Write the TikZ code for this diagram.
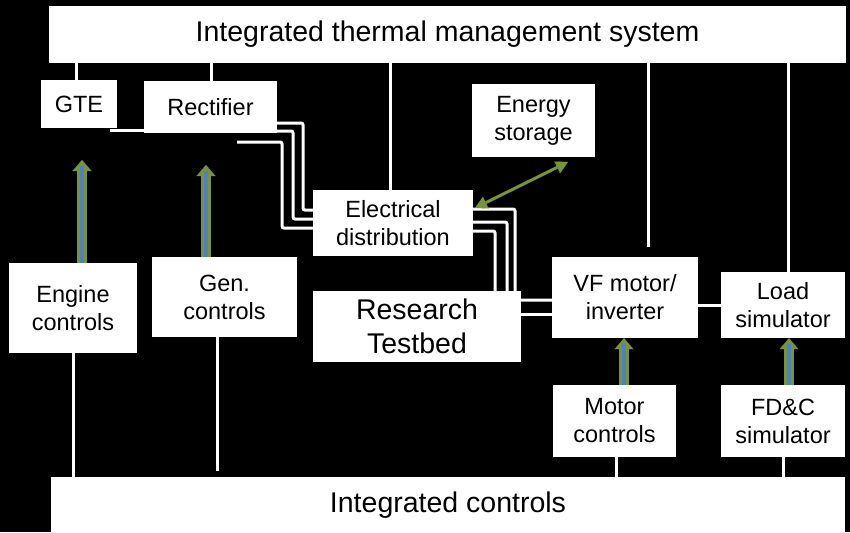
\documentclass[tikz,border=0pt]{standalone}
\usepackage{fontspec}
\setmainfont{Liberation Sans}
\usetikzlibrary{arrows.meta}
\pgfdeclarelayer{bg}
\pgfsetlayers{bg,main}
\definecolor{ogreen}{HTML}{77933C}
\definecolor{oblue}{HTML}{4F81BD}
\begin{document}
\begin{tikzpicture}[x=1pt,y=-1pt,
  box/.style={fill=white, inner sep=0pt, align=center, font=\fontsize{23.5}{28}\selectfont},
  bigbox/.style={box, font=\fontsize{28.5}{34}\selectfont},
  wire/.style={draw=white, line width=3pt, rounded corners=2pt},
  gshaft/.style={draw=ogreen, line width=10pt, -{Triangle[width=19pt,length=11pt,line width=0.1pt]}},
  bshaft/.style={draw=oblue, line width=3.5pt, shorten >=6pt},
  dblarrow/.style={draw=ogreen, line width=3pt, {Triangle[width=13pt,length=12pt,line width=0.1pt]}-{Triangle[width=13pt,length=12pt,line width=0.1pt]}}
]
\useasboundingbox (0,0) rectangle (850,532);

% nodes
\node[bigbox, minimum width=797pt, minimum height=57pt] (top) at (447.5,34.5) {Integrated thermal management system};
\node[box, minimum width=76pt, minimum height=48pt] (gte) at (79,104) {GTE};
\node[box, minimum width=133pt, minimum height=52pt] (rect) at (210.5,107) {Rectifier};
\node[box, minimum width=123pt, minimum height=73pt] (es) at (533.5,120.5) {Energy\\storage};
\node[box, minimum width=160pt, minimum height=66pt] (ed) at (393,223) {Electrical\\distribution};
\node[bigbox, minimum width=208pt, minimum height=71pt] (rt) at (417,326.5) {Research\\Testbed};
\node[box, minimum width=146pt, minimum height=81pt] (vf) at (625,297.5) {VF motor/\\inverter};
\node[box, minimum width=124pt, minimum height=66pt] (load) at (783,305) {Load\\simulator};
\node[box, minimum width=128pt, minimum height=90pt] (eng) at (73,308) {Engine\\controls};
\node[box, minimum width=145pt, minimum height=80pt] (gen) at (224.5,297) {Gen.\\controls};
\node[box, minimum width=123pt, minimum height=72pt] (mot) at (614.5,421) {Motor\\controls};
\node[box, minimum width=124pt, minimum height=72pt] (fdc) at (783,421) {FD\&C\\simulator};
\node[bigbox, minimum width=794pt, minimum height=56pt] (ic) at (448,505) {Integrated controls};

% free ends
\coordinate (w3s) at (237,142);
\coordinate (gteIn) at (82,160);
\coordinate (rectIn) at (206,165);
\coordinate (esTip) at (568,162);
\coordinate (edTip) at (475,208);

\begin{pgfonlayer}{bg}
\fill[black] (0,0) rectangle (850,532);
% thermal links
\draw[wire] (top.south -| 76,0) -- (gte.north -| 76,0);
\draw[wire] (top.south -| 211,0) -- (rect.north -| 211,0);
\draw[wire] (top.south -| 390,0) -- (ed.north -| 390,0);
\draw[wire, shorten >=10pt] (top.south -| 648,0) -- (vf.north -| 648,0);
\draw[wire] (top.south -| 788,0) -- (load.north -| 788,0);
% control links
\draw[wire] (eng.south -| 73,0) -- (ic.north -| 73,0);
\draw[wire, shorten >=6pt] (gen.south -| 217,0) -- (ic.north -| 217,0);
\draw[wire] (mot.south -| 616,0) -- (ic.north -| 616,0);
\draw[wire] (fdc.south -| 783,0) -- (ic.north -| 783,0);
% GTE - rectifier
\draw[wire] (gte.east |- 0,130) ++(-7,0) -- (rect.west |- 0,130);
% rectifier - electrical distribution
\draw[wire] (rect.east |- 0,123) -- (303,123) -- (303,210) -- (ed.west |- 0,210);
\draw[wire] (rect.east |- 0,131) -- (293,131) -- (293,219) -- (ed.west |- 0,219);
\draw[wire] (w3s) -- (282,142) -- (282,228) -- (ed.west |- 0,228);
% electrical distribution - testbed / VF motor
\draw[wire] (ed.east |- 0,209) -- (515,209) -- (515,300) -- (vf.west |- 0,300);
\draw[wire] (ed.east |- 0,222) -- (507,222) -- (rt.north -| 507,0);
\draw[wire] (ed.east |- 0,231) -- (495,231) -- (rt.north -| 495,0);
\draw[wire] (rt.east |- 0,314) -- (vf.west |- 0,314);
% VF - load
\draw[wire] (vf.east |- 0,305) -- (load.west |- 0,305);
\end{pgfonlayer}

% green control arrows
\draw[gshaft] (eng.north -| 82,0) -- (gteIn);
\draw[bshaft] (eng.north -| 82,0) -- (gteIn);
\draw[gshaft] (gen.north -| 206,0) -- (rectIn);
\draw[bshaft] (gen.north -| 206,0) -- (rectIn);
\draw[gshaft] (mot.north -| 624,0) -- (vf.south -| 624,0);
\draw[bshaft] (mot.north -| 624,0) -- (vf.south -| 624,0);
\draw[gshaft] (fdc.north -| 789,0) -- (load.south -| 789,0);
\draw[bshaft] (fdc.north -| 789,0) -- (load.south -| 789,0);
% energy storage link
\draw[dblarrow] (edTip) -- (esTip);
\end{tikzpicture}
\end{document}
